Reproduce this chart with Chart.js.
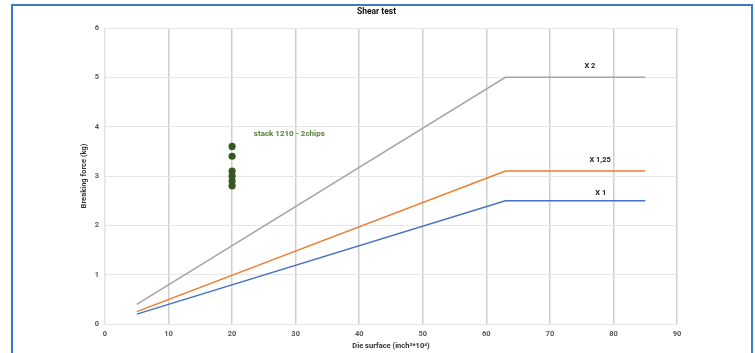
<!DOCTYPE html>
<html>
<head>
<meta charset="utf-8">
<script src="https://cdn.jsdelivr.net/npm/chart.js@4.4.1/dist/chart.umd.min.js"></script>
<style>
  html, body { margin: 0; padding: 0; background: #fff; }
  #wrap { width: 755px; height: 353px; position: relative; }
</style>
</head>
<body>
<div id="wrap"><canvas id="c" width="755" height="353"></canvas></div>
<script>
// ---- data ----
const dieSurface = [5, 63, 85];
const limitX1 = [0.2, 2.5, 2.5];
const limitX125 = [0.25, 3.1, 3.1];
const limitX2 = [0.4, 5, 5];
const stackX = [20, 20, 20, 20, 20, 20];
const stackY = [3.6, 3.4, 3.1, 3.0, 2.9, 2.8];
const seriesLabels = ['X 1', 'X 1,25', 'X 2', 'stack 1210 - 2chips'];
const labelPos = [[78.0, 2.66], [77.9, 3.32], [76.3, 5.23], [29.0, 3.85]];

const FONT = 'Roboto, "Liberation Sans", sans-serif';
const toPts = (xs, ys) => xs.map((x, i) => ({x: x, y: ys[i]}));

const decor = {
  id: 'decor',
  beforeDraw(chart) {
    const ctx = chart.ctx;
    ctx.save();
    ctx.fillStyle = '#fff';
    ctx.fillRect(0, 0, chart.width, chart.height);
    ctx.strokeStyle = '#3a7dc6';
    ctx.lineWidth = 2;
    ctx.strokeRect(12, 5, 740, 360);
    ctx.restore();
  },
  afterDatasetsDraw(chart) {
    const ctx = chart.ctx;
    const xs = chart.scales.x, ys = chart.scales.y;
    ctx.save();
    ctx.textAlign = 'center';
    ctx.textBaseline = 'middle';
    const colors = ['#222', '#222', '#222', '#548235'];
    const sizes = [7.5, 7.5, 7.5, 8];
    seriesLabels.forEach((t, i) => {
      ctx.font = 'bold ' + sizes[i] + 'px ' + FONT;
      ctx.fillStyle = colors[i];
      ctx.fillText(t, xs.getPixelForValue(labelPos[i][0]), ys.getPixelForValue(labelPos[i][1]));
    });
    ctx.restore();
  }
};

new Chart(document.getElementById('c'), {
  type: 'scatter',
  data: {
    datasets: [
      { label: seriesLabels[0], data: toPts(dieSurface, limitX1), showLine: true, borderColor: '#4472c4', borderWidth: 1.5, pointRadius: 0, fill: false },
      { label: seriesLabels[1], data: toPts(dieSurface, limitX125), showLine: true, borderColor: '#ed7d31', borderWidth: 1.5, pointRadius: 0, fill: false },
      { label: seriesLabels[2], data: toPts(dieSurface, limitX2), showLine: true, borderColor: '#a5a5a5', borderWidth: 1.5, pointRadius: 0, fill: false },
      { label: seriesLabels[3], data: toPts(stackX, stackY), showLine: false, backgroundColor: '#375623', borderColor: '#375623', pointRadius: 3.6, borderWidth: 0 }
    ]
  },
  options: {
    responsive: false,
    animation: false,
    devicePixelRatio: 1,
    layout: { padding: { left: 76, right: 78, top: 0, bottom: 0 } },
    plugins: {
      legend: { display: false },
      tooltip: { enabled: false },
      title: {
        display: true, text: 'Shear test', color: '#111',
        font: { family: FONT, size: 8.5, weight: 'bold' },
        padding: { top: 7, bottom: 10.8 }
      }
    },
    scales: {
      x: {
        type: 'linear', min: 0, max: 90,
        afterFit(s) { s.height = 29; },
        ticks: { stepSize: 10, color: '#595959', padding: 6, font: { family: FONT, size: 7.5, weight: 'bold' } },
        grid: { drawTicks: false, color: (c) => c.index === 0 ? '#e3e3e3' : '#cfcfcf', lineWidth: 1.5 },
        border: { display: false },
        title: { display: true, text: 'Die surface (inch²*10⁴)', color: '#333', font: { family: FONT, size: 7.5, weight: 'bold' }, padding: { top: 0, bottom: 2 } }
      },
      y: {
        type: 'linear', min: 0, max: 6,
        afterFit(s) { s.width = 29; },
        ticks: { stepSize: 1, color: '#595959', padding: 6, font: { family: FONT, size: 7.5, weight: 'bold' } },
        grid: { drawTicks: false, color: '#e6e6e6', lineWidth: 1 },
        border: { display: false },
        title: { display: true, text: 'Breaking force (kg)', color: '#333', font: { family: FONT, size: 7.5, weight: 'bold' }, padding: { top: 4, bottom: 0 } }
      }
    }
  },
  plugins: [decor]
});
</script>
</body>
</html>
